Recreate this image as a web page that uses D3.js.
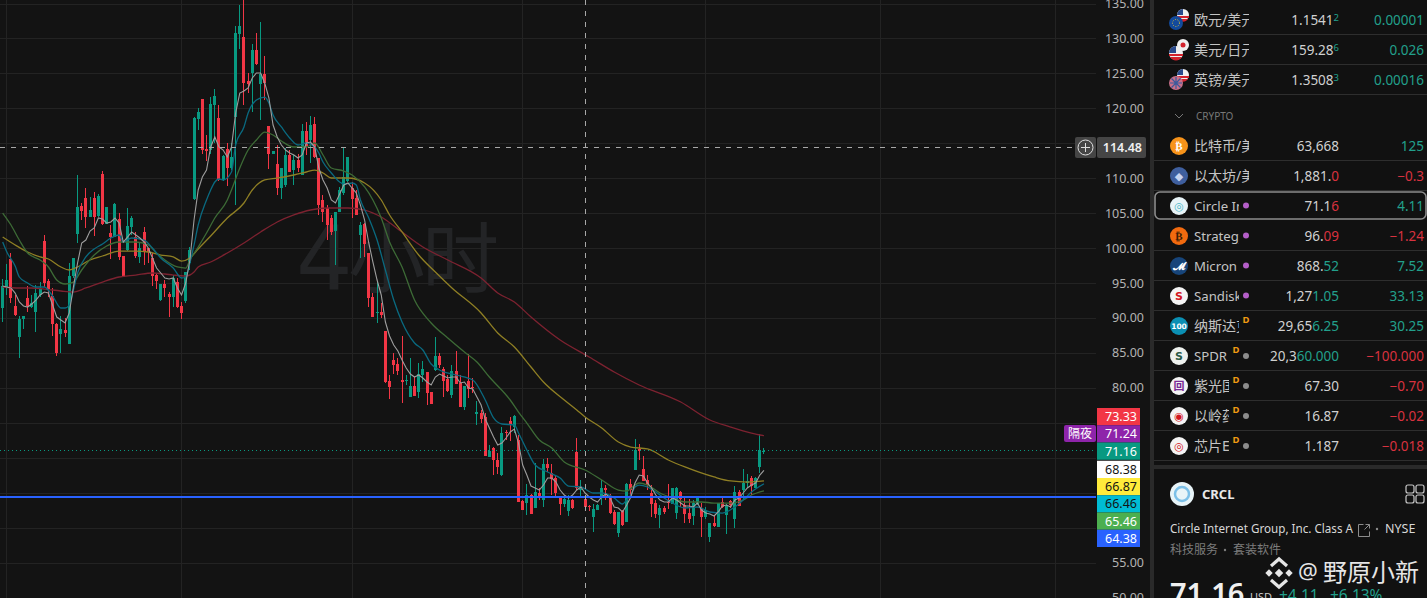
<!DOCTYPE html>
<html>
<head>
<meta charset="utf-8">
<title>CRCL</title>
<script src="https://cdn.jsdelivr.net/npm/d3@7"></script>
<style>
  html, body { margin: 0; padding: 0; background: #131313; overflow: hidden; }
  svg { display: block; }
  text { font-family: "Noto Sans", "Noto Sans CJK SC", sans-serif; }
</style>
</head>
<body>
<div id="app"></div>
<script>
//candles, oldest first
const opens = [
  91.57,94.57,98.57,91.86,87.43,90,92.99,91.71,91,93.43,
  101.14,95.43,93.28,89.28,87.86,88.43,86.43,96.14,102.14,106.14,
  107.28,104.57,107.28,104.71,110.71,103.57,102.28,101.71,104.28,99,
  99.86,103.14,101.71,98.86,102.43,100.14,98.71,96.28,92.71,95,
  93.57,93.14,95.28,91.86,92.57,98,107.14,118.57,121.43,114.28,
  114.14,120.57,118.71,109.86,114.28,111.57,118.86,130.71,130.28,124,
  125.14,128.43,123.57,125,117.57,113.57,112.14,108.71,109.14,113.43,
  111.28,112.71,110.57,116.86,115.57,117.86,113,107,105.86,104.43,
  102.57,105.28,108,109.71,108.71,107.28,102,103.57,99.43,93.14,
  90.86,91,88.28,81.14,84.14,83.57,81.28,81.14,78.86,80.43,
  79.57,82,82.43,79.57,82.71,84.71,82.86,81.43,79.14,82.57,
  80.86,77.43,81.14,80.28,76.43,76.57,76,70.28,71.57,69.86,
  67.71,73.86,75.43,74.57,72.71,64,63.71,64.86,63,65.14,
  64.14,69.28,68,67.28,64.43,63.57,62.57,64.14,70.99,65.57,
  64.28,63.28,61.71,62.71,64.57,65.86,64.57,62.43,59.43,62.57,
  61,66.43,68.43,71.43,68.57,67,65.14,63.71,62,63,
  63.86,63.57,62.28,65.28,63.43,62.28,61.86,63.57,62.86,61.71,
  58.86,60.86,60.28,63.86,62,64,61.43,65.28,65.57,66.57,
  67.28,65.86,68.86,71
];
const closes = [
  94.71,95.57,92.99,90.57,90,90.43,91.86,92.28,93.71,94.28,
  95.14,94.28,89.28,85.14,88.57,88,96.14,98.71,106,105.43,
  104.57,105.57,104.57,107.57,103.57,106,101.71,106.43,98.86,96,
  103.28,104.43,99,100.14,99.57,99.57,96.14,95.43,95,94.43,
  93.14,95.86,91.71,90.86,96.71,99.86,118.71,119.57,114.14,114,
  120.71,121.86,109.86,113.28,111.57,113.14,130.86,131.86,123.71,123.57,
  128.43,126.43,125,123.71,113.57,114,108.71,111.57,113.43,111,
  112.71,111.57,116.86,114.71,117.71,113.14,106.28,105.28,103.43,102.43,
  105.28,108.43,110.28,113.14,107.14,104.86,103.43,100.71,92.99,90.28,
  91,90.57,81,80.28,83.43,82.57,81,81.28,80.43,79,
  82.14,82.86,79.43,77.86,84.71,83.43,81.14,79.71,82.57,80.71,
  77.43,80.43,80,80.14,76.71,75.71,70.43,71.14,69.86,68.86,
  73.71,73.71,75,76.14,63.86,62.71,64.86,62.14,65.28,64.57,
  69.28,68.71,67.14,65.14,63.57,64.28,64.14,63,65.86,65.71,
  63.14,63.14,62.86,63.43,65.86,65.57,62.28,60.71,62.43,60.57,
  66.43,65.57,71.28,71.14,66.86,66.28,63.57,62.14,63,62.43,
  63.71,65.86,65.86,64.28,62.14,61.43,63.71,64.71,61.71,62.71,
  60.86,60.43,63.71,63.14,63.28,63.43,65.28,63.28,66.57,66.86,
  66.14,67.28,71.28,71.16
];
const highs = [
  95.71,97.86,99.43,93.43,90.43,90.43,94.71,93.43,94.86,95.28,
  102,95.71,94.43,89.43,90.43,90.14,97.99,98.71,110.57,106.57,
  108.71,107.43,108.14,107.86,111.14,106,103.43,106.57,105.14,99,
  105.86,104.71,102.43,100.86,103.14,100.14,99.43,96.57,95,95.57,
  93.86,96.28,95.86,92.43,96.71,100.28,118.86,120.14,121.43,116.28,
  121.71,122.86,120.57,113.43,115.14,115.14,131.86,134.86,136,125.14,
  129.28,130.86,132.43,127.57,117.57,114,114.86,111.57,114.43,114.14,
  113.43,113.57,117.86,118.14,119,118.86,113,107.71,106.28,104.86,
  105.28,108.86,114.43,113.14,109.57,108.43,103.86,103.71,99.43,93.71,
  95.28,92.28,88.28,82,85.14,84.43,87.57,82,84.43,81.71,
  83.71,84,82.43,79.57,87.43,85.14,83.14,82,83.43,85.43,
  82,80.43,85,81.57,78.28,76.99,76.57,72,71.71,70.86,
  74.57,74.14,76,76.28,73.43,64.14,66.43,65,69.43,65.86,
  70,70.14,69.28,67.57,64.57,64.57,64.86,64.28,72.99,67,
  64.86,63.43,63.57,63.57,67,66.28,65,62.71,62.43,62.71,
  66.57,67.14,72.86,72.14,70.43,67.71,66.28,64.14,63.43,63.28,
  66.43,65.86,66,65.43,64.71,64.28,64.14,64.71,63.71,63.14,
  60.86,62,63.71,64.43,63.57,64.14,66.14,65.57,68.57,67.86,
  67.57,67.43,73.57,71.57
];
const lows = [
  89.57,93.43,92.28,90.43,84.43,88.57,91,91.57,88.14,93.14,
  94.57,93.14,87.57,84.71,85.14,87.43,86.43,95.86,100.86,104.14,
  103,104.57,101.86,104.57,103.43,103.57,98.57,101.71,98.43,96,
  99.71,102,98.71,98,97.71,98,94.71,94.28,92.57,93.14,
  90.28,91.71,91.57,90,92.28,97,107,117,113.57,112.57,
  113.57,115.14,109.71,109.71,109,111.28,106.28,128.57,120.57,122.28,
  119.57,126.28,118.43,121.28,111.43,113.57,107.71,107.14,108.86,111,
  109.14,111,110.57,113.43,112.28,113,104.86,103.86,101.28,102,
  97.71,105.28,107.71,109.57,104.43,104.86,98.71,98.86,91.71,90.28,
  89.43,90.14,80.86,78.57,82.14,82,78,80.57,78.86,79,
  78.71,81,77.71,77.86,82.57,83,78.86,79.57,78.71,80.71,
  77.43,77,78.71,79.43,74.86,75.14,70.43,70.28,67.71,67.86,
  67.57,72.71,72.57,73.71,63.86,62.71,62,62.14,63,64.14,
  63.14,68.14,64.86,64.71,62,63.14,61.86,62.86,65.57,64.57,
  62.71,62.57,59.57,62.71,63.43,64.14,62.14,60.57,58.86,60.43,
  61,64.43,68.43,69.86,66.86,65.57,61.71,61.57,60.14,62.14,
  62.86,63.57,61.43,63.14,60.86,60.86,60.57,63.43,58.86,61.43,
  58.14,60.28,60.28,63,59.28,63,60.14,63.28,64.14,65.86,
  64.86,65.86,68,70.71
];

//fast moving average, one value per candle
const maWhite = [
  94.71,94.57,94.43,93.71,92.43,91.86,91.71,92.14,92.71,93.43,
  93.86,93.71,92,90.28,89.86,89.43,90.86,94.57,98,100.86,
  101.28,102.57,103,104.43,104.28,103.71,103.86,104.43,103.71,101,
  101.71,102.43,102,101.57,101,100.14,98.71,97.28,96.57,95.86,
  95.71,95.86,94.43,93.43,95.14,98.43,104.14,108.43,110.28,111.28,
  114.57,116,114.57,114.14,113.14,114.57,119.43,122.28,122.57,123,
  124.43,125.14,125.14,123.71,121.57,117.71,116,114.86,114.14,113.71,
  113.43,113,113.43,115.14,115.28,114.57,111.57,109.86,108.71,107,
  106.57,107.86,109.14,109.43,108.71,108,106.28,104.14,100.86,98.14,
  95.57,93.43,89.57,87.57,86.28,85.43,84.14,83,82.14,81.71,
  82,81.57,81,80.57,81.71,82.14,81.86,81.57,81.71,81.71,
  80.86,81,80.14,80,78.86,77.71,75.71,74.43,73.14,72,
  72.28,73,73.86,74.28,72.28,69.14,67.71,66.14,65.86,65.57,
  66.28,67.28,67.28,66.71,65.57,64.86,64.43,64.86,65.57,66,
  65.14,64.57,64.14,63.86,64.57,65,64.43,63.14,63,62.43,
  63.43,64.57,66.57,67.71,67.57,66.57,65.86,64.86,64.14,63.86,
  63.86,64.43,64.14,63.71,63.28,63.28,63.14,63.71,62.71,62.28,
  62.14,61.86,62.43,63.28,63.43,63.14,64.14,64.43,65.14,65.86,
  66.28,66.57,67.71,68.38
];

//slower averages, read at the candles where they bend
const maTealIdx = [0,1,3,4,6,8,10,12,14,15,16,17,18,20,22,24,26,28,29,31,34,36,38,41,43,44,45,46,47,49,50,51,52,53,55,56,58,59,61,63,64,65,67,69,71,73,75,76,77,79,81,82,84,85,86,88,90,92,94,96,99,101,103,105,109,113,116,118,120,123,124,126,128,131,134,136,139,142,144,147,149,150,151,152,153,155,157,159,161,164,167,170,173,176,178,180,183];
const maTeal = [101,99.57,97.57,96,95.14,94.57,94.57,93.28,91.57,91.57,92,94.14,96.57,98.86,100,100.71,101.57,102,101,101.57,101.28,100.14,98.71,97.28,95.86,96,98,100.57,103.43,107,108.43,109.57,110,109.86,111,114.86,117.43,119.43,121.28,121.71,120.86,119.14,117.43,115.86,114.86,115.14,114.57,113.71,112.43,110.86,109.57,109.28,109.43,109.14,107,104.43,101.28,97,92.71,89.57,86.57,85.57,83.57,82.71,82,81.28,78.43,75.86,75,74.86,73.71,71.28,69.14,68.14,67.28,66.14,66,65.14,65.14,64.43,63.57,64.14,64.86,66,66.28,66,65.28,64.43,63.71,63,63.14,62.43,62.28,63.14,64.14,65.28,66.46];

const maGreenIdx = [0,2,4,6,9,11,13,15,17,19,22,25,28,32,35,37,39,42,44,45,47,49,51,54,55,57,59,61,63,65,67,70,73,75,77,79,82,84,87,89,91,93,96,99,103,107,111,114,117,122,124,126,129,132,135,140,144,148,150,152,153,155,158,161,164,168,171,175,178,180,183];
const maGreen = [105.14,103.43,101.28,99.43,98.43,97.43,95.57,95,95.28,97,99.14,100.43,101,101,100.57,99.43,98.43,97.43,97.28,98.43,100.28,102.28,104.43,107,108.43,111.57,114.14,115.57,116.71,116.28,115.43,114.57,114.57,115.14,113.43,111.57,111.14,110.57,108.86,107,104.43,101,97.43,92.71,89.43,87.28,85.28,83.86,81.71,78.43,76.71,75.14,72.71,71.57,69.57,68.43,67,65.57,65.43,66.28,66.57,66.28,65.14,64.43,63.86,63.86,63.71,63.71,64.14,64.86,65.46];

const maYellowIdx = [0,3,6,9,11,14,16,18,21,24,28,32,35,38,41,43,45,47,50,54,58,60,63,66,70,73,75,77,79,83,87,91,93,96,100,104,108,115,119,123,127,130,135,138,140,144,148,151,155,160,164,171,175,179,183];
const maYellow = [101.71,100.57,99.57,98.86,98.57,97.43,97,97.43,98.43,99,99.71,99.71,99.57,99.14,98.86,98.28,98.71,100,101.86,104.43,106.57,108.43,109.86,110.14,110.57,111,111.28,110.86,110.14,110.14,109.43,107,104.86,102.43,99.14,96.71,94.43,90.86,88,86,83.14,81,78.43,77,76,74.43,72.43,71.71,71.43,69.86,68.86,67.43,66.86,66.71,66.87];

const maRedIdx = [0,4,7,10,14,17,20,24,28,32,36,39,41,44,46,47,50,54,58,62,66,70,74,78,83,87,91,95,101,107,115,119,123,127,134,141,147,153,163,170,175,180,183];
const maRed = [94.57,94.43,94.43,94.28,94,93.86,94.43,95.28,96,96.28,96.57,96.43,96.28,96.14,96.71,97.43,98.14,99.43,100.86,102.43,103.86,104.86,105.57,105.86,105.86,105.57,104.57,102.86,100.28,98.43,95.86,93.71,92.43,90.28,87,84.57,82.43,80.57,78.14,75.57,74.57,73.71,73.33];

//price axis
const axisTicks = [135,130,125,120,110,105,100,95,90,85,80,55,50];
const gridPrices = [135,130,125,120,115,110,105,100,95,90,85,80,75,70,65,60,55,50];
const gridCandles = [1,43,84,125,169,211,253];
const crossCandle = 140;
const crossPrice = 114.48;
const lastPrice = 71.16;
const bluePrice = 64.57;

//stacked labels at the right of the chart
const tagTexts = ["73.33","71.24","71.16","68.38","66.87","66.46","65.46","64.38"];
const tagFills = ["#f23645","#8e24aa","#089981","#ffffff","#ffeb3b","#00bcd4","#4caf50","#2962ff"];
const tagInks = ["#ffffff","#ffffff","#ffffff","#131313","#131313","#131313","#ffffff","#ffffff"];

//watchlist
const rowNames = ["欧元/美元","美元/日元","英镑/美元","比特币/美元","以太坊/美元","Circle Internet","Strategy","Micron","Sandisk","纳斯达克100","SPDR","紫光国微","以岭药业","芯片ETF"];
const rowPriceHead = ["1.1541","159.28","1.3508","63,668","1,881.","71.1","96.","868.","1,27","29,65","20,3","67.30","16.87","1.187"];
const rowPriceTail = ["2","6","3","","0","6","09","52","1.05","6.25","60.000","","",""];
const rowChange = ["0.00001","0.026","0.00016","125","−0.3","4.11","−1.24","7.52","33.13","30.25","−100.000","−0.70","−0.02","−0.018"];
const rowUp = [1,1,1,1,0,1,0,1,1,1,0,0,0,0];
const rowTailUp = [1,1,1,1,0,0,0,1,1,1,1,1,1,1];
const rowMark = ["","","","","","dot","dot","dot","dot","d","dd","dd","dd","dd"];
const rowIconFill = ["","","","#f7931a","#3f5f9e","#e8f4f8","#f26a0f","#17457a","#f4f4f4","#0b8fb3","#eef1ee","#f4f4f4","#f4f4f4","#f4f4f4"];
const rowIconGlyph = ["","","","₿","◆","◎","₿","𝓜","S","100","S","回","◉","◎"];
const rowIconInk = ["","","","#ffffff","#c6d4f0","#4fb8c8","#3a1c05","#ffffff","#d3161d","#ffffff","#2b5a46","#7a2a96","#d3161d","#d3161d"];

const green = "#089981";
const red = "#f23645";
const listGreen = "#22a08c";
const listRed = "#d8323f";
const width = 1427;
const height = 598;
const chartRight = 1096;

const x = d3.scaleLinear().domain([0, 183]).range([2.67, 763.97]);
const y = d3.scaleLinear().domain([135, 50]).range([4, 599]);
//grid and price labels sit a touch tighter than the marks
const gridY = d3.scaleLinear().domain([135, 50]).range([3.5, 597.5]);
const cx = (i) => Math.round(x(i) - 0.5) + 0.5;
const py = (p) => Math.round(y(p));

const svg = d3.select("#app").append("svg").attr("width", width).attr("height", height);
svg.append("rect").attr("width", width).attr("height", height).attr("fill", "#131313");

svg.append("clipPath").attr("id", "chartClip").append("rect").attr("width", chartRight).attr("height", height);
const chart = svg.append("g").attr("clip-path", "url(#chartClip)");

//grid
chart.selectAll(".hgrid").data(gridPrices).enter().append("line").attr("class", "hgrid")
  .attr("x1", 0).attr("x2", chartRight).attr("y1", (d) => Math.round(gridY(d)) + 0.5).attr("y2", (d) => Math.round(gridY(d)) + 0.5)
  .attr("stroke", "#232323");
chart.selectAll(".vgrid").data(gridCandles).enter().append("line").attr("class", "vgrid")
  .attr("y1", 0).attr("y2", height).attr("x1", (d) => cx(d)).attr("x2", (d) => cx(d))
  .attr("stroke", "#232323");

//watermark
const mark = chart.append("g").attr("fill", "#232426");
mark.append("text").attr("x", 296).attr("y", 289).style("font-size", "89px").style("font-family", '"DejaVu Sans"').text("4");
mark.append("text").attr("x", 348).attr("y", 287).style("font-size", "77px").style("font-family", '"Noto Sans CJK SC"').text("小");
mark.append("text").attr("x", 422).attr("y", 287).style("font-size", "77px").style("font-family", '"Noto Sans CJK SC"').text("时");

//candles
const candleIdx = d3.range(opens.length);
const candleColor = (i) => (closes[i] >= opens[i] ? green : red);
chart.selectAll(".wick").data(candleIdx).enter().append("rect").attr("class", "wick")
  .attr("x", (i) => cx(i) - 0.5).attr("width", 1)
  .attr("y", (i) => py(highs[i])).attr("height", (i) => py(lows[i]) - py(highs[i]))
  .attr("fill", candleColor).attr("shape-rendering", "crispEdges");
chart.selectAll(".body").data(candleIdx).enter().append("rect").attr("class", "body")
  .attr("x", (i) => cx(i) - 1.5).attr("width", 3)
  .attr("y", (i) => py(Math.max(opens[i], closes[i])))
  .attr("height", (i) => Math.max(1, py(Math.min(opens[i], closes[i])) - py(Math.max(opens[i], closes[i]))))
  .attr("fill", candleColor).attr("shape-rendering", "crispEdges");

//moving averages
const drawMa = (idx, values, color, width, curve) => {
  const line = d3.line().x((d) => x(d)).y((d, k) => y(values[k])).curve(curve);
  chart.append("path").attr("d", line(idx)).attr("fill", "none").attr("stroke", color).attr("stroke-width", width);
};
drawMa(maRedIdx, maRed, "#7d2230", 1.3, d3.curveMonotoneX);
drawMa(maYellowIdx, maYellow, "#8f7f24", 1.3, d3.curveMonotoneX);
drawMa(maGreenIdx, maGreen, "#3d6b36", 1.3, d3.curveMonotoneX);
drawMa(maTealIdx, maTeal, "#0a6a80", 1.3, d3.curveMonotoneX);
drawMa(candleIdx, maWhite, "#9e9e9e", 1.1, d3.curveLinear);

//price lines
chart.append("line").attr("x1", 0).attr("x2", chartRight).attr("y1", y(bluePrice)).attr("y2", y(bluePrice))
  .attr("stroke", "#2962ff").attr("stroke-width", 2);
chart.append("line").attr("x1", 0).attr("x2", chartRight).attr("y1", py(lastPrice) - 0.5).attr("y2", py(lastPrice) - 0.5)
  .attr("stroke", green).attr("stroke-dasharray", "1 3");
chart.append("line").attr("x1", 0).attr("x2", chartRight).attr("y1", Math.round(gridY(crossPrice)) + 0.5).attr("y2", Math.round(gridY(crossPrice)) + 0.5)
  .attr("stroke", "#a8a8a8").attr("stroke-dasharray", "5 6");
chart.append("line").attr("x1", cx(crossCandle)).attr("x2", cx(crossCandle)).attr("y1", 0).attr("y2", height)
  .attr("stroke", "#a8a8a8").attr("stroke-dasharray", "5 6");

//axis
const axis = d3.axisRight(gridY).tickValues(axisTicks).tickFormat(d3.format(".2f")).tickSize(0).tickPadding(0);
const axisG = svg.append("g").attr("transform", "translate(1144,0)").call(axis);
axisG.select(".domain").remove();
axisG.selectAll("text").attr("text-anchor", "end").attr("fill", "#b4b4b4").style("font-size", "12.5px")
  .style("font-family", '"Noto Sans", sans-serif');

//crosshair price box
svg.append("rect").attr("x", 1075).attr("y", 137).attr("width", 21).attr("height", 21).attr("rx", 2).attr("fill", "#454545");
svg.append("rect").attr("x", 1097).attr("y", 137).attr("width", 49).attr("height", 21).attr("rx", 2).attr("fill", "#454545");
svg.append("circle").attr("cx", 1085.5).attr("cy", 147.5).attr("r", 7.5).attr("fill", "none").attr("stroke", "#e0e0e0");
svg.append("path").attr("d", "M1081 147.5H1090M1085.5 143V152").attr("stroke", "#e0e0e0").attr("fill", "none");
svg.append("text").attr("x", 1142).attr("y", 152).attr("text-anchor", "end").attr("fill", "#f0f0f0")
  .style("font-size", "12.5px").style("font-weight", 600).text(crossPrice.toFixed(2));

//stacked tags
const tagTop = d3.scaleLinear().domain([0, 8]).range([408, 546]);
svg.selectAll(".tag").data(tagTexts).enter().append("rect").attr("class", "tag")
  .attr("x", 1097).attr("width", 43).attr("y", (d, i) => tagTop(i) + (i > 2 ? 1 : 0)).attr("height", 17.25)
  .attr("fill", (d, i) => tagFills[i]);
svg.selectAll(".tagText").data(tagTexts).enter().append("text").attr("class", "tagText")
  .attr("x", 1137).attr("text-anchor", "end").attr("y", (d, i) => tagTop(i) + (i > 2 ? 1 : 0) + 13)
  .attr("fill", (d, i) => tagInks[i]).style("font-size", "12.5px").text((d) => d);
svg.append("rect").attr("x", 1064).attr("y", 425).attr("width", 32).attr("height", 17).attr("rx", 2).attr("fill", "#8e24aa");
svg.append("text").attr("x", 1080).attr("y", 438).attr("text-anchor", "middle").attr("fill", "#ffffff")
  .style("font-size", "12px").text("隔夜");

//right panel
svg.append("rect").attr("x", 1150).attr("width", 277).attr("height", height).attr("fill", "#111111");
svg.append("rect").attr("x", 1150).attr("width", 4).attr("height", height).attr("fill", "#2a2a2a");
svg.append("rect").attr("x", 1150).attr("y", 465).attr("width", 277).attr("height", 4).attr("fill", "#2a2a2a");

const rowY = [20,50,80,146,176,206,236,266,296,326,356,386,416,446];
const list = svg.append("g");
[34,64,94,160,190,250,280,310,340,370,400,430,460].forEach((ly) => {
  list.append("line").attr("x1", 1154).attr("x2", 1427).attr("y1", ly + 0.5).attr("y2", ly + 0.5).attr("stroke", "#2e2e2e");
});
list.append("rect").attr("x", 1155).attr("y", 192).attr("width", 271).attr("height", 27).attr("rx", 5)
  .attr("fill", "#111111").attr("stroke", "#8c8c8c").attr("stroke-width", 1.6);

//flag pair icons
const usFlag = (cxp, cyp, r) => {
  list.append("circle").attr("cx", cxp).attr("cy", cyp).attr("r", r).attr("fill", "#f0f0f0");
  list.append("path").attr("d", `M${cxp - r} ${cyp + 1}H${cxp + r}V${cyp + 3}H${cxp - r}Z M${cxp - r + 1} ${cyp + 4}H${cxp + r - 1}A${r} ${r} 0 0 1 ${cxp - r + 1} ${cyp + 4}Z`).attr("fill", "#d3222c");
  list.append("path").attr("d", `M${cxp - r} ${cyp}A${r} ${r} 0 0 1 ${cxp} ${cyp - r}V${cyp}Z`).attr("fill", "#2a4a8c");
};
usFlag(1183, 15, 6);
list.append("circle").attr("cx", 1176).attr("cy", 23).attr("r", 7).attr("fill", "#124a9c");
list.append("circle").attr("cx", 1176).attr("cy", 23).attr("r", 3.5).attr("fill", "none").attr("stroke", "#e5c230").attr("stroke-dasharray", "1 1.5");
list.append("circle").attr("cx", 1183).attr("cy", 45).attr("r", 6).attr("fill", "#f0f0f0");
list.append("circle").attr("cx", 1183).attr("cy", 45).attr("r", 2.5).attr("fill", "#d3222c");
usFlag(1176, 53, 7);
usFlag(1183, 75, 6);
list.append("circle").attr("cx", 1176).attr("cy", 83).attr("r", 7).attr("fill", "#c8708a");
list.append("path").attr("d", "M1170 83H1182M1176 77V89M1171.5 78.5L1180.5 87.5M1180.5 78.5L1171.5 87.5").attr("stroke", "#3a5a9c").attr("stroke-width", 1.2);

//list rows
rowNames.forEach((name, i) => {
  const ry = rowY[i];
  const clipW = rowMark[i] === "dd" ? 35 : rowMark[i] === "" ? 55 : 45;
  const latin = /^[A-Za-z]/.test(name);
  svg.append("clipPath").attr("id", `rowClip${i}`).append("rect").attr("x", 1193).attr("y", ry - 12).attr("width", clipW + 1).attr("height", 24);
  if (rowIconFill[i]) {
    list.append("circle").attr("cx", 1179).attr("cy", ry).attr("r", 9).attr("fill", rowIconFill[i]);
    list.append("text").attr("x", 1179).attr("y", ry + (rowIconGlyph[i] === "100" ? 3 : 4)).attr("text-anchor", "middle")
      .attr("fill", rowIconInk[i]).style("font-size", rowIconGlyph[i] === "100" ? "7.5px" : "11px").style("font-weight", 700)
      .style("font-family", '"DejaVu Sans", "Noto Sans CJK SC"').text(rowIconGlyph[i]);
  }
  list.append("text").attr("x", 1194).attr("y", ry + 4.5).attr("clip-path", `url(#rowClip${i})`)
    .attr("fill", "#c4c4c4").style("font-size", latin ? "13.2px" : "14px").text(name);
  if (rowMark[i] === "dot") {
    list.append("circle").attr("cx", 1246).attr("cy", ry - 0.5).attr("r", 3).attr("fill", "#b45ec8");
  }
  if (rowMark[i] === "dd") {
    list.append("circle").attr("cx", 1246).attr("cy", ry).attr("r", 3).attr("fill", "#8c8c8c");
    list.append("text").attr("x", 1236).attr("y", ry - 3).attr("text-anchor", "middle").attr("fill", "#f09a12").style("font-size", "9.5px").style("font-weight", 700).text("D");
  }
  if (rowMark[i] === "d") {
    list.append("text").attr("x", 1246).attr("y", ry - 3).attr("text-anchor", "middle").attr("fill", "#f09a12").style("font-size", "9.5px").style("font-weight", 700).text("D");
  }
  const isSup = i < 3;
  const price = list.append("text").attr("x", 1339).attr("y", ry + 4.5).attr("text-anchor", "end").style("font-size", "13.5px").attr("fill", "#d0d0d0");
  price.append("tspan").text(rowPriceHead[i]);
  if (rowPriceTail[i]) {
    price.append("tspan").attr("fill", rowTailUp[i] ? listGreen : listRed)
      .attr("dy", isSup ? -3.5 : 0).style("font-size", isSup ? "9.5px" : "13.5px").text(rowPriceTail[i]);
  }
  list.append("text").attr("x", 1424).attr("y", ry + 4.5).attr("text-anchor", "end")
    .attr("fill", rowUp[i] ? listGreen : listRed).style("font-size", "13.5px").text(rowChange[i]);
});

//crypto section header
list.append("path").attr("d", "M1175 114L1179 118L1183 114").attr("fill", "none").attr("stroke", "#787878");
list.append("text").attr("x", 1196).attr("y", 120).attr("fill", "#787878").style("font-size", "10px").text("CRYPTO");

//symbol details
const info = svg.append("g");
info.append("circle").attr("cx", 1182).attr("cy", 494).attr("r", 12).attr("fill", "#e8f4f8");
info.append("circle").attr("cx", 1182).attr("cy", 494).attr("r", 7).attr("fill", "none").attr("stroke", "#7cc0e8").attr("stroke-width", 2.5);
info.append("text").attr("x", 1202).attr("y", 499).attr("fill", "#e8e8e8").style("font-size", "13px").style("font-weight", 700).text("CRCL");
[[1406,485],[1416,485],[1406,495],[1416,495]].forEach((c) => {
  info.append("rect").attr("x", c[0]).attr("y", c[1]).attr("width", 8).attr("height", 8).attr("rx", 2)
    .attr("fill", "none").attr("stroke", "#c8c8c8").attr("stroke-width", 1.2);
});
info.append("text").attr("x", 1170).attr("y", 533).attr("fill", "#d8d8d8").style("font-size", "12.3px")
  .attr("textLength", 183).attr("lengthAdjust", "spacingAndGlyphs").text("Circle Internet Group, Inc. Class A");
info.append("path").attr("d", "M1363.5 524.5H1358.5V536.5H1369.5V531.5M1365.5 524.5H1369.5V528.5M1369.5 524.5L1364.5 529.5").attr("fill", "none").attr("stroke", "#8c8c8c");
info.append("circle").attr("cx", 1377).attr("cy", 529).attr("r", 1.2).attr("fill", "#8c8c8c");
info.append("text").attr("x", 1385).attr("y", 533).attr("fill", "#d8d8d8").style("font-size", "12.5px").text("NYSE");
info.append("text").attr("x", 1170).attr("y", 554).attr("fill", "#7c7c7c").style("font-size", "12px").text("科技服务");
info.append("circle").attr("cx", 1225).attr("cy", 550).attr("r", 1.2).attr("fill", "#7c7c7c");
info.append("text").attr("x", 1233).attr("y", 554).attr("fill", "#7c7c7c").style("font-size", "12px").text("套装软件");
info.append("text").attr("x", 1170).attr("y", 604).attr("fill", "#f0f0f0").style("font-size", "29px").style("font-weight", 600).text("71.16");
info.append("text").attr("x", 1250).attr("y", 601).attr("fill", "#c8c8c8").style("font-size", "11px").text("USD");
info.append("text").attr("x", 1279).attr("y", 601).attr("fill", listGreen).style("font-size", "15.5px").text("+4.11");
info.append("text").attr("x", 1330).attr("y", 601).attr("fill", listGreen).style("font-size", "15.5px").text("+6.13%");

//binance style stamp
const stamp = svg.append("g");
stamp.append("path").attr("d", "M1271 566L1279 559L1287 566M1271 580L1279 587L1287 580").attr("fill", "none").attr("stroke", "#e6e6e6").attr("stroke-width", 3.2);
[[1279,573,3],[1269,573,2.6],[1289,573,2.6]].forEach((s) => {
  stamp.append("rect").attr("x", -s[2]).attr("y", -s[2]).attr("width", 2 * s[2]).attr("height", 2 * s[2]).attr("fill", "#e6e6e6")
    .attr("transform", `translate(${s[0]},${s[1]}) rotate(45)`);
});
stamp.append("text").attr("x", 1298).attr("y", 579).attr("fill", "#e6e6e6").style("font-size", "22px").text("@");
stamp.append("text").attr("x", 1323).attr("y", 581).attr("fill", "#e6e6e6").style("font-size", "24px").text("野原小新");
</script>
</body>
</html>
